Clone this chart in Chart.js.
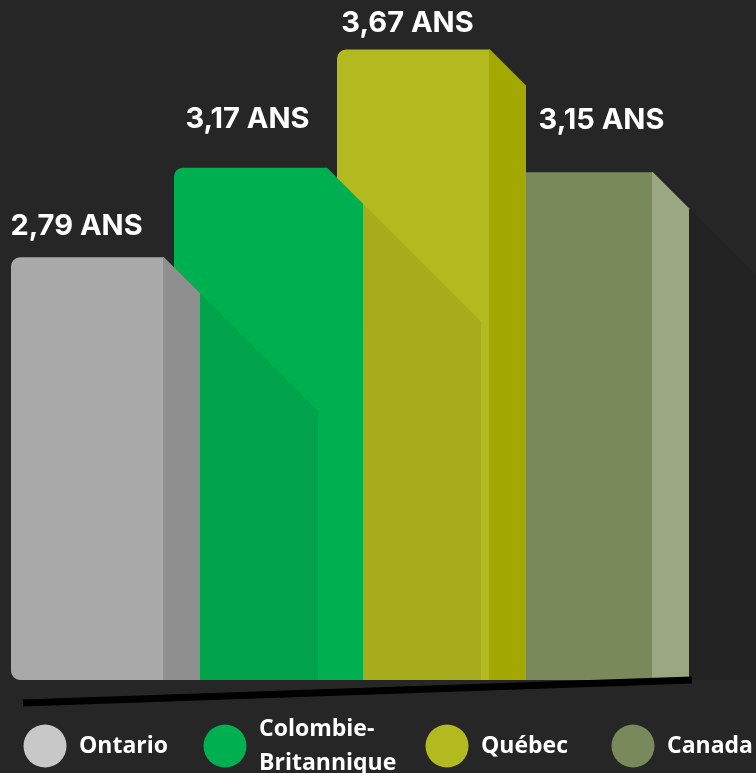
<!DOCTYPE html>
<html>
<head>
<meta charset="utf-8">
<script src="https://cdn.jsdelivr.net/npm/chart.js@4"></script>
<style>
    html, body { margin: 0; padding: 0; background: #262626; }
</style>
</head>
<body>
<canvas id="chart" width="756" height="773"></canvas>
<script>
// Données
const categories = ['Ontario', 'Colombie-Britannique', 'Québec', 'Canada'];
const legendLines = [['Ontario'], ['Colombie-', 'Britannique'], ['Québec'], ['Canada']];
const values = [2.79, 3.17, 3.67, 3.15];
const valueLabels = ['2,79 ANS', '3,17 ANS', '3,67 ANS', '3,15 ANS'];

// Couleurs
const frontColors = ['#a9a9a9', '#00b050', '#b3ba1f', '#7a895c'];
const sideColors = ['#8f8f90', '#00b050', '#a2a800', '#9aa780'];
const legendColors = ['#c8c8c8', '#00b050', '#b3ba1f', '#7a895c'];
const shadowAlpha = [0.075, 0.07, 0, 0.1];

// Faces latérales, ombres, étiquettes, ligne de base et légende
const fake3d = {
    id: 'fake3d',
    afterDatasetsDraw(chart, args, opts) {
        const ctx = chart.ctx;
        const bars = chart.getDatasetMeta(0).data;
        const D = opts.depth, W = opts.shadow;
        ctx.save();
        bars.forEach((bar, i) => {
            const p = bar.getProps(['x', 'y', 'base', 'width'], true);
            const r = p.x + p.width / 2;
            // ombre portée
            if (shadowAlpha[i] > 0) {
                ctx.fillStyle = 'rgba(0,0,0,' + shadowAlpha[i] + ')';
                ctx.beginPath();
                ctx.moveTo(r + D, p.y + D);
                ctx.lineTo(r + D + W, p.y + D + W);
                ctx.lineTo(r + D + W, p.base);
                ctx.lineTo(r + D, p.base);
                ctx.closePath();
                ctx.fill();
            }
            // face latérale
            ctx.fillStyle = sideColors[i];
            ctx.beginPath();
            ctx.moveTo(r - 1, p.y);
            ctx.lineTo(r, p.y);
            ctx.lineTo(r + D, p.y + D);
            ctx.lineTo(r + D, p.base);
            ctx.lineTo(r - 1, p.base);
            ctx.closePath();
            ctx.fill();
        });

        // ligne de base
        const b = chart.chartArea.bottom;
        ctx.strokeStyle = '#000';
        ctx.lineWidth = 7;
        ctx.beginPath();
        ctx.moveTo(23, b + 23);
        ctx.lineTo(692, b);
        ctx.stroke();

        // étiquettes de valeur
        ctx.fillStyle = '#ffffff';
        ctx.font = 'bold 29px Inter';
        ctx.textAlign = 'center';
        ctx.textBaseline = 'middle';
        bars.forEach((bar, i) => {
            ctx.fillText(valueLabels[i], bar.x + opts.labelDx[i], bar.y - opts.labelDy[i]);
        });

        // légende
        ctx.font = 'bold 23px "Open Sans"';
        ctx.textAlign = 'left';
        categories.forEach((c, i) => {
            ctx.fillStyle = legendColors[i];
            ctx.beginPath();
            ctx.arc(opts.legendX[i], opts.legendY, 21.5, 0, Math.PI * 2);
            ctx.fill();
            ctx.fillStyle = '#ffffff';
            const lines = legendLines[i];
            lines.forEach((t, j) => {
                const y = opts.legendY + (j - (lines.length - 1) / 2) * 34;
                ctx.fillText(t, opts.legendX[i] + 34, y);
            });
        });
        ctx.restore();
    }
};

const ctx = document.getElementById('chart').getContext('2d');
const chart = new Chart(ctx, {
    type: 'bar',
    data: {
        labels: categories,
        datasets: [{
            data: values,
            base: 1,
            backgroundColor: frontColors,
            borderWidth: 0,
            borderSkipped: false,
            borderRadius: { topLeft: 9, bottomLeft: 9, topRight: 0, bottomRight: 0 },
            barPercentage: 0.9387,
            categoryPercentage: 1
        }]
    },
    options: {
        responsive: false,
        animation: false,
        layout: { padding: { left: 6, right: 98, top: 0, bottom: 93 } },
        scales: {
            x: { display: false },
            y: { display: false, min: 1, max: 3.88 }
        },
        plugins: {
            legend: { display: false },
            tooltip: { enabled: false },
            fake3d: {
                depth: 36,
                shadow: 118,
                labelDx: [-11, -3, -6, 25],
                labelDy: [31, 48, 26, 52],
                legendX: [45, 225, 447, 633],
                legendY: 746
            }
        }
    },
    plugins: [fake3d]
});
</script>
</body>
</html>
